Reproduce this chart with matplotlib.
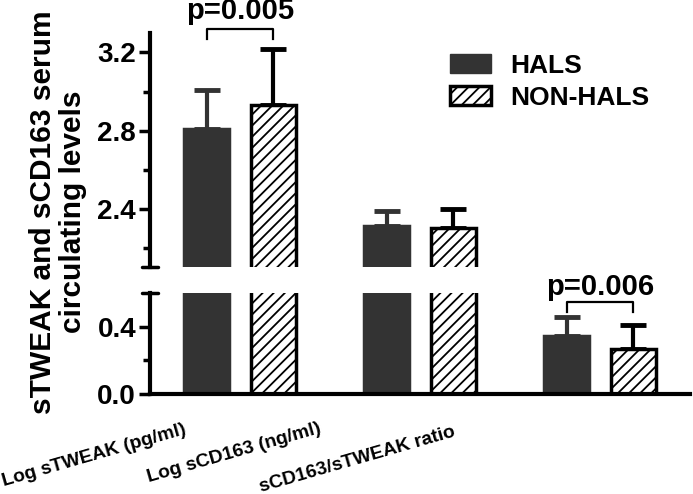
import matplotlib
matplotlib.use('Agg')
import matplotlib.pyplot as plt
import numpy as np
from matplotlib.ticker import FormatStrFormatter
from matplotlib.patches import Patch

# ---- data ----
categories = ['Log sTWEAK (pg/ml)', 'Log sCD163 (ng/ml)', 'sCD163/sTWEAK ratio']
series_names = ['HALS', 'NON-HALS']
hals_mean = [2.81, 2.31, 0.345]
hals_err = [0.20, 0.077, 0.112]
nonhals_mean = [2.93, 2.30, 0.268]
nonhals_err = [0.29, 0.10, 0.142]
p_groups = [0, 2]
p_labels = ['p=0.005', 'p=0.006']

plt.rcParams['font.family'] = ['Liberation Sans', 'DejaVu Sans']
plt.rcParams['hatch.linewidth'] = 1.3

W, H = 693, 494
fig = plt.figure(figsize=(W / 100, H / 100), dpi=100)

def px_axes(x0, y0, x1, y1):
    return fig.add_axes([x0 / W, 1 - y1 / H, (x1 - x0) / W, (y1 - y0) / H])

ax_top = px_axes(150, 33, 690, 267)
ax_bot = px_axes(150, 394 - 101, 690, 394)

x = np.arange(len(categories))
width = 0.255
off = 0.186
dark = '#333333'

for ax in (ax_top, ax_bot):
    ax.bar(x - off, hals_mean, width, color=dark, edgecolor=dark, linewidth=2.5, zorder=2)
    ax.bar(x + off, nonhals_mean, width, color='white', edgecolor='black',
           hatch='///', linewidth=2.5, zorder=2)
    ax.errorbar(x - off, hals_mean, yerr=[np.zeros(3), hals_err], fmt='none',
                ecolor=dark, elinewidth=3, capsize=9.5, capthick=3.5, zorder=1)
    ax.errorbar(x + off, nonhals_mean, yerr=[np.zeros(3), nonhals_err], fmt='none',
                ecolor='black', elinewidth=3, capsize=9.5, capthick=3.5, zorder=1)
    ax.set_xlim(-0.5, 2.5)
    for s in ('top', 'right'):
        ax.spines[s].set_visible(False)
    ax.spines['left'].set_linewidth(3)
    ax.tick_params(axis='y', which='major', length=8, width=2.5, pad=2)
    ax.tick_params(axis='y', which='minor', length=5, width=2.5)
    ax.set_xticks([])
    ax.yaxis.set_major_formatter(FormatStrFormatter('%.1f'))
    ax.set_facecolor('none')

ax_top.set_ylim(2.1, 3.3)
ax_top.spines['bottom'].set_visible(False)
ax_top.set_yticks([2.4, 2.8, 3.2])
ax_top.set_yticks([2.2, 2.6, 3.0], minor=True)

ax_bot.set_ylim(0, 0.6)
ax_bot.spines['bottom'].set_linewidth(3)
ax_bot.set_yticks([0.0, 0.4])
ax_bot.set_yticks([0.2], minor=True)
for ax in (ax_top, ax_bot):
    for lab in ax.get_yticklabels():
        lab.set_fontweight('bold')
        lab.set_fontsize(20)

# break caps
cap = 8 / 540
ax_top.plot([-cap, cap], [0, 0], transform=ax_top.transAxes, color='black',
            lw=2.5, clip_on=False, solid_capstyle='round')
ax_bot.plot([-cap, cap], [1, 1], transform=ax_bot.transAxes, color='black',
            lw=2.5, clip_on=False, solid_capstyle='round')

# significance brackets
brackets = [(ax_top, 3.32, 3.27, 3.37), (ax_bot, 0.549, 0.49, 0.591)]
for g, lab, (ax, ytop, yleg, ytxt) in zip(p_groups, p_labels, brackets):
    x0, x1 = g - off, g + off
    ax.plot([x0, x0, x1, x1], [yleg, ytop, ytop, yleg], color='black', lw=1.6,
            clip_on=False)
    ax.text(g, ytxt, lab, ha='center', va='baseline', fontsize=21,
            fontweight='bold', clip_on=False)

# x category labels (rotated)
label_pos = [(4, 486), (149, 482), (261, 492)]
for (px, py), lab in zip(label_pos, categories):
    fig.text(px / W, 1 - py / H, lab, rotation=16, rotation_mode='anchor',
             ha='left', va='baseline', fontsize=13.8, fontweight='bold')

# y label
fig.text(58 / W, 1 - 212 / H, 'sTWEAK and sCD163 serum\ncirculating levels',
         rotation=90, ha='center', va='center', fontsize=21.5,
         fontweight='bold', multialignment='center', linespacing=1.12)

# legend
handles = [Patch(facecolor=dark, edgecolor=dark, linewidth=1),
           Patch(facecolor='white', edgecolor='black', hatch='///', linewidth=2.5)]
leg = fig.legend(handles, series_names, loc='upper left',
                 bbox_to_anchor=(450 / W, 1 - 54 / H), frameon=False,
                 prop={'size': 19, 'weight': 'bold'}, handlelength=1.55,
                 handleheight=0.75, labelspacing=0.3, handletextpad=0.75,
                 borderpad=0, borderaxespad=0)

fig.savefig('out.png', dpi=100)
